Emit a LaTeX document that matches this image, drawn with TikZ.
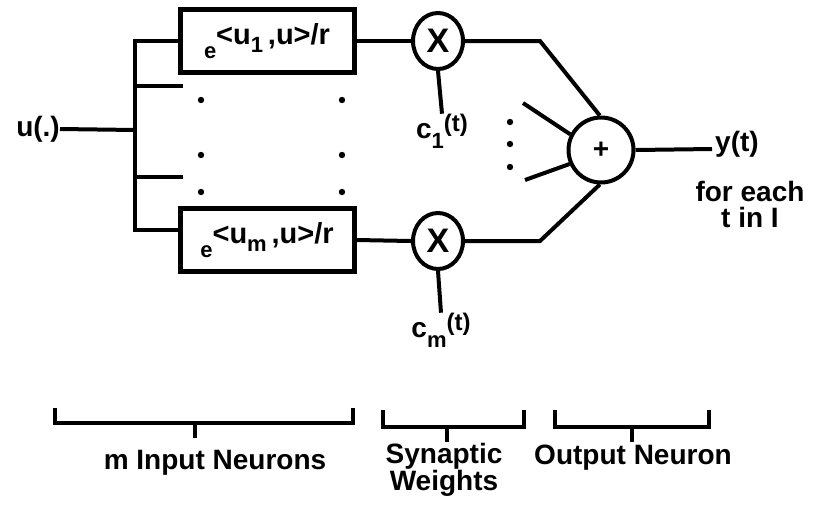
\documentclass[tikz,border=0pt]{standalone}
\usepackage{fontspec}
\setmainfont{Liberation Sans}
\usetikzlibrary{shapes.geometric}

\newcommand\kerntext[1]{\raisebox{-0.4em}{\fontsize{22}{22}\selectfont e}\raisebox{0.1em}{<u\raisebox{-0.3em}{\fontsize{22}{22}\selectfont #1}\,,u>/r}}
\newcommand\weighttext[1]{c\raisebox{-0.35em}{\fontsize{22}{22}\selectfont #1}\raisebox{0.25em}{\fontsize{24}{24}\selectfont (t)}}

\begin{document}
\begin{tikzpicture}[x=1pt, y=-1pt,
    wire/.style={line width=4pt},
    neuron/.style={draw, line width=5pt, minimum width=174pt, minimum height=63pt, inner sep=0pt, font=\fontsize{29}{29}\selectfont\bfseries},
    mult/.style={draw, ellipse, line width=4pt, minimum width=50pt, minimum height=56pt, inner sep=0pt, font=\fontsize{34}{34}\selectfont\bfseries},
    adder/.style={draw, circle, line width=4pt, minimum size=65pt, inner sep=0pt, font=\fontsize{28}{28}\selectfont\bfseries},
    lbl/.style={inner sep=0pt, align=center, font=\fontsize{28}{26}\selectfont\bfseries},
    bracket/.style={line width=3.5pt}
  ]
  \useasboundingbox (0,0) rectangle (814,515);

  % input and bus
  \node[lbl, anchor=east] (uin) at (60,129) {u(.)};
  \coordinate (busmid) at (135,130);
  \coordinate (bustop) at (135,41);
  \coordinate (busbot) at (135,230);
  \coordinate (stub1) at (183,86);
  \coordinate (stub2) at (183,177);

  % input neurons
  \node[neuron] (n1) at (267,41) {\kerntext{1}};
  \node[neuron] (nm) at (267,240) {\kerntext{m}};
  \foreach \x in {201,342}
    \foreach \y in {100,155,192}
      \fill (\x,\y) circle (3.2pt);

  \draw[wire] (uin.east) -- (busmid);
  \draw[wire] (n1.west) -- (bustop) -- (busbot) -- (busbot -| nm.west);
  \draw[wire] (bustop |- stub1) -- (stub1);
  \draw[wire] (bustop |- stub2) -- (stub2);

  % synaptic weights
  \node[mult] (x1) at (438,41) {X};
  \node[mult] (xm) at (438,241) {X};
  \node[lbl] (c1) at (442,131) {\weighttext{1}};
  \node[lbl] (cm) at (441,330) {\weighttext{m}};
  \draw[wire] (n1.east) -- (x1.west);
  \draw[wire] (nm.east) -- (xm.west);
  \draw[wire] (x1.south) -- (c1.north);
  \draw[wire] (xm.south) -- (cm.north);

  % output neuron
  \node[adder] (sum) at (601,150) {+};
  \coordinate (bend1) at (540,41);
  \coordinate (bendm) at (540,241);
  \coordinate (in2) at (523,103);
  \coordinate (in3) at (525,180);
  \coordinate (yend) at (712,149);
  \draw[wire] (x1.east) -- (bend1) -- (sum.92);
  \draw[wire] (xm.east) -- (bendm) -- (sum.268);
  \draw[wire] (in2) -- (sum.153);
  \draw[wire] (in3) -- (sum.204);
  \foreach \y in {122,144,167}
    \fill (510,\y) circle (3.2pt);
  \draw[wire] (sum.east) -- (yend);
  \node[lbl, anchor=base west] (yout) at (715,151) {y(t)};
  \node[lbl] (each) at (750,204) {for each\\t in I};

  % brackets
  \draw[bracket] (55,408) -- (55,423) -- (353,423) -- (353,408);
  \draw[bracket] (195,423) -- (195,438);
  \draw[bracket] (383,410) -- (383,427) -- (524,427) -- (524,410);
  \draw[bracket] (447,427) -- (447,442);
  \draw[bracket] (555,410) -- (555,427) -- (709,427) -- (709,410);
  \draw[bracket] (632,427) -- (632,442);
  \node[lbl] (inlbl) at (215,463) {m Input Neurons};
  \node[lbl] (synlbl) at (444,470) {Synaptic\\Weights};
  \node[lbl] (outlbl) at (633,458) {Output Neuron};
\end{tikzpicture}
\end{document}
